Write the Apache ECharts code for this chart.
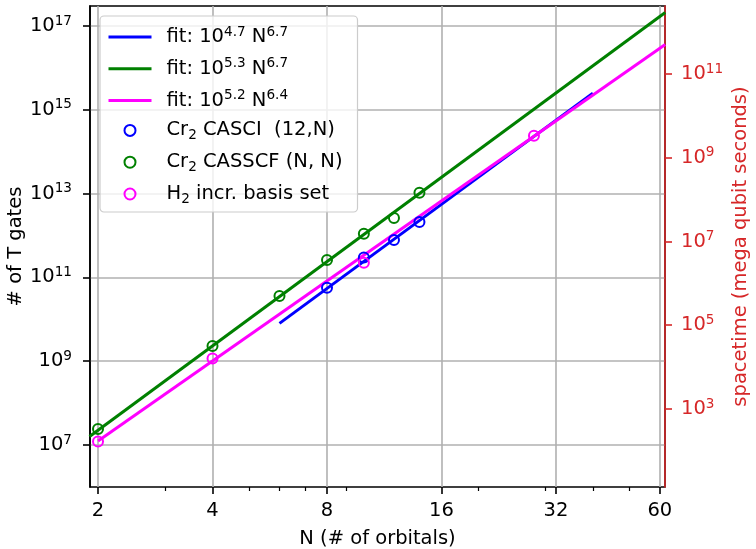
<!DOCTYPE html>
<html><head><meta charset="utf-8">
<script src="https://cdn.jsdelivr.net/npm/echarts@6/dist/echarts.min.js"></script>
<style>html,body{margin:0;padding:0;background:#fff}#c{width:756px;height:549px}</style>
</head><body><div id="c"></div>
<script>
// ---- data ----
const casciN = [8, 10, 12, 14];
const casciT = [5.7e10, 3.0e11, 7.8e11, 2.1e12];
const casscfN = [2, 4, 6, 8, 10, 12, 14];
const casscfT = [2.4e7, 2.3e9, 3.6e10, 2.6e11, 1.1e12, 2.6e12, 1.05e13];
const h2N = [2, 4, 10, 28];
const h2T = [1.22e7, 1.16e9, 2.24e11, 2.4e14];
const fitBlueN = [6, 40];
const fitBlueT = [8.0e9, 2.5e15];
const fitGreenN = [1.9, 62];
const fitGreenT = [1.6e7, 2.1e17];
const fitMagentaN = [2, 62];
const fitMagentaT = [1.25e7, 3.6e16];
const xTicks = [2, 4, 8, 16, 32, 60];
const xMinorTicks = [3, 5, 6, 7, 9, 20, 30, 40, 50];
const yTickExp = [7, 9, 11, 13, 15, 17];
const y2TickExp = [3, 5, 7, 9, 11];
const seriesNames = ['fitBlue', 'fitGreen', 'fitMagenta', 'casci', 'casscf', 'h2'];
const legendTexts = {
  fitBlue: '{sp|}{t|fit: 10}{s|4.7}{t| N}{s|6.7}',
  fitGreen: '{sp|}{t|fit: 10}{s|5.3}{t| N}{s|6.7}',
  fitMagenta: '{sp|}{t|fit: 10}{s|5.2}{t| N}{s|6.4}',
  casci: '{sp|}{t|Cr}{b|2}{t| CASCI  (12,N)}',
  casscf: '{sp|}{t|Cr}{b|2}{t| CASSCF (N, N)}',
  h2: '{sp|}{t|H}{b|2}{t| incr. basis set}'
};

const FONT = 'DejaVu Sans';
const FS = 19.5;
const RED = '#d62728';
const toPts = (ns, ts) => ns.map((n, i) => [Math.log2(n), Math.log10(ts[i])]);
const pow10 = v => '{b|10}{s|' + Math.round(v) + '}';
const tickRich = {
  b: { fontFamily: FONT, fontSize: FS, lineHeight: 24 },
  s: { fontFamily: FONT, fontSize: 13.6, lineHeight: 14, verticalAlign: 'top' }
};
const redRich = {
  b: { fontFamily: FONT, fontSize: FS, lineHeight: 24, color: RED },
  s: { fontFamily: FONT, fontSize: 13.6, lineHeight: 14, verticalAlign: 'top', color: RED }
};

const chart = echarts.init(document.getElementById('c'), null, { renderer: 'canvas' });
const lineSeries = (name, ns, ts, color) => ({
  name, type: 'line', data: toPts(ns, ts), symbol: 'none', showSymbol: false,
  lineStyle: { color, width: 3 }, itemStyle: { color: 'rgba(0,0,0,0)', borderWidth: 0 }, clip: true, z: 2
});
const scatterSeries = (name, ns, ts, color) => ({
  name, type: 'scatter', data: toPts(ns, ts), symbol: 'circle', symbolSize: 10,
  itemStyle: { color: 'rgba(0,0,0,0)', borderColor: color, borderWidth: 2, opacity: 1 }, z: 3
});

chart.setOption({
  animation: false,
  backgroundColor: '#fff',
  textStyle: { fontFamily: FONT },
  grid: { left: 90, right: 91, top: 6, bottom: 62, show: true, borderColor: '#000', borderWidth: 1.6,
          containLabel: false, outerBoundsMode: 'none' },
  legend: {
    orient: 'vertical', left: 100, top: 16, padding: [9, 15, 6, 7],
    itemWidth: 43, itemHeight: 11, itemGap: 9.8,
    backgroundColor: 'rgba(255,255,255,0.8)', borderColor: '#cccccc', borderWidth: 1.2, borderRadius: 4,
    lineStyle: { width: 3 },
    data: seriesNames,
    formatter: name => legendTexts[name],
    textStyle: {
      fontFamily: FONT, fontSize: FS, color: '#000',
      rich: {
        sp: { width: 10 },
        t: { fontFamily: FONT, fontSize: FS, lineHeight: 24, color: '#000' },
        s: { fontFamily: FONT, fontSize: 13.6, lineHeight: 14, verticalAlign: 'top', color: '#000' },
        b: { fontFamily: FONT, fontSize: 13.6, lineHeight: 13, verticalAlign: 'bottom', color: '#000' }
      }
    }
  },
  xAxis: [{
    type: 'value', min: 0.93, max: 5.952, position: 'bottom',
    name: 'N (# of orbitals)', nameLocation: 'middle', nameGap: 42, nameMoveOverlap: false,
    nameTextStyle: { fontFamily: FONT, fontSize: FS, color: '#000' },
    axisLine: { show: false },
    axisTick: { show: true, length: 7, lineStyle: { color: '#000', width: 1.6 }, customValues: xTicks.map(Math.log2) },
    axisLabel: { show: true, margin: 14, color: '#000', fontFamily: FONT, fontSize: FS,
                 customValues: xTicks.map(Math.log2), formatter: v => String(Math.round(Math.pow(2, v))) },
    splitLine: { show: true, lineStyle: { color: '#b0b0b0', width: 1.6 } }
  }, {
    type: 'value', min: 0.93, max: 5.952, position: 'bottom',
    axisLine: { show: false },
    axisTick: { show: true, length: 4, lineStyle: { color: '#000', width: 1.2 }, customValues: xMinorTicks.map(Math.log2) },
    axisLabel: { show: false },
    splitLine: { show: false }
  }],
  yAxis: [{
    type: 'value', min: 5.998, max: 17.477, position: 'left',
    name: '# of T gates', nameLocation: 'middle', nameGap: 64, nameRotate: 90, nameMoveOverlap: false,
    nameTextStyle: { fontFamily: FONT, fontSize: FS, color: '#000' },
    axisLine: { show: true, lineStyle: { color: '#000', width: 1.6 } },
    axisTick: { show: true, length: 7, lineStyle: { color: '#000', width: 1.6 }, customValues: yTickExp },
    axisLabel: { show: true, margin: 18, color: '#000', customValues: yTickExp, formatter: pow10, rich: tickRich },
    splitLine: { show: true, lineStyle: { color: '#b0b0b0', width: 1.6 } }
  }, {
    type: 'value', min: 1.137, max: 12.624, position: 'right',
    name: 'spacetime (mega qubit seconds)', nameLocation: 'middle', nameGap: 66, nameRotate: 90, nameMoveOverlap: false,
    nameTextStyle: { fontFamily: FONT, fontSize: FS, color: RED },
    axisLine: { show: true, lineStyle: { color: RED, width: 1.6 } },
    axisTick: { show: true, length: 7, lineStyle: { color: RED, width: 1.6 }, customValues: y2TickExp },
    axisLabel: { show: true, margin: 16, color: RED, customValues: y2TickExp, formatter: pow10, rich: redRich },
    splitLine: { show: false }
  }],
  series: [
    lineSeries('fitBlue', fitBlueN, fitBlueT, '#0000ff'),
    lineSeries('fitGreen', fitGreenN, fitGreenT, '#008000'),
    lineSeries('fitMagenta', fitMagentaN, fitMagentaT, '#ff00ff'),
    scatterSeries('casci', casciN, casciT, '#0000ff'),
    scatterSeries('casscf', casscfN, casscfT, '#008000'),
    scatterSeries('h2', h2N, h2T, '#ff00ff')
  ]
});
</script>
</body></html>
